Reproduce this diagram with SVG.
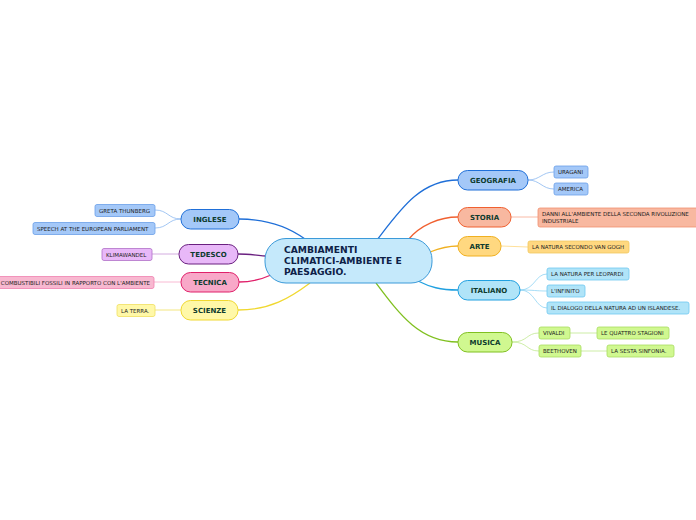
<svg xmlns="http://www.w3.org/2000/svg" width="696" height="520" viewBox="0 0 696 520">
<style>
text{font-family:"DejaVu Sans","Verdana",sans-serif}
.m{font-size:7px;font-weight:bold;fill:#0d3b2e;text-anchor:middle}
.s{font-size:5.5px;fill:#222}
.c{font-size:9.2px;font-weight:bold;fill:#0d2147}
.l{fill:none;stroke-width:1.3}
.t{fill:none;stroke-width:0.8}
</style>
<rect width="696" height="520" fill="#fff"/>
<g id="connectors">
<path class="l" d="M377,240 C400,210 420,180 458,180" stroke="#1f6fd8"/>
<path class="l" d="M408,240 C420,225 440,217 458,217" stroke="#f06030"/>
<path class="l" d="M430,252 C440,248 448,246 458,246" stroke="#f0b020"/>
<path class="l" d="M418,281 C430,287 440,290 458,290" stroke="#20a0e0"/>
<path class="l" d="M376,283 C400,315 420,342 458,342" stroke="#80c020"/>
<path class="l" d="M305,239 C290,228 270,219 239,219" stroke="#1f6fd8"/>
<path class="l" d="M266,256 C255,255 248,254 238,254" stroke="#6a2080"/>
<path class="l" d="M271,275 C260,280 250,282 239,282" stroke="#e0206a"/>
<path class="l" d="M310,283 C290,298 270,310 238,310" stroke="#f0d830"/>
<path class="t" d="M528,180 C540,180 542,172 554,172" stroke="#8ab8f0"/>
<path class="t" d="M528,180 C540,180 542,189 554,189" stroke="#8ab8f0"/>
<path class="t" d="M511,217 L538,217" stroke="#f8a890"/>
<path class="t" d="M501,246 L528,247" stroke="#ffd880"/>
<path class="t" d="M520,290 C535,290 535,274 547,274" stroke="#90d4f4"/>
<path class="t" d="M520,290 C535,290 535,291 547,291" stroke="#90d4f4"/>
<path class="t" d="M520,290 C535,290 535,308 547,308" stroke="#90d4f4"/>
<path class="t" d="M512,342 C528,342 526,333 539,333" stroke="#c0e890"/>
<path class="t" d="M512,342 C528,342 526,351 539,351" stroke="#c0e890"/>
<path class="t" d="M570,333 L597,333" stroke="#c0e890"/>
<path class="t" d="M581,351 L607,351" stroke="#c0e890"/>
<path class="t" d="M181,219 C168,219 168,210 155,210" stroke="#8ab8f0"/>
<path class="t" d="M181,219 C168,219 168,228 155,228" stroke="#8ab8f0"/>
<path class="t" d="M179,254 L152,254" stroke="#c898d8"/>
<path class="t" d="M181,282 L154,282" stroke="#f8a8c8"/>
<path class="t" d="M181,310 L155,310" stroke="#f0e060"/>
</g>
<g id="central">
<rect x="265" y="238.5" width="167" height="44.5" rx="21" fill="#c5e9fb" stroke="#3b9ad9" stroke-width="1"/>
<text class="c" x="284" y="253">CAMBIAMENTI</text>
<text class="c" x="284" y="264">CLIMATICI-AMBIENTE E</text>
<text class="c" x="284" y="275">PAESAGGIO.</text>
</g>
<g id="inglese"><rect x="181" y="209.5" width="58" height="19.5" rx="9.5" fill="#a4c8f8" stroke="#1f6fd8"/><text class="m" x="210" y="222">INGLESE</text></g>
<g id="tedesco"><rect x="179" y="244.5" width="59" height="19.5" rx="9.5" fill="#e8b8f8" stroke="#6a2080"/><text class="m" x="208.5" y="257">TEDESCO</text></g>
<g id="tecnica"><rect x="181" y="272.5" width="58" height="19.5" rx="9.5" fill="#f8a8c8" stroke="#e0206a"/><text class="m" x="210" y="285">TECNICA</text></g>
<g id="scienze"><rect x="181" y="300.5" width="57" height="19.5" rx="9.5" fill="#fff8a8" stroke="#f0d830"/><text class="m" x="209.5" y="313">SCIENZE</text></g>
<g id="greta"><rect x="95" y="204.5" width="60" height="12" rx="2" fill="#a4c8f8" stroke="#6aa0e8" stroke-width="0.8"/><text class="s" x="99" y="212.5">GRETA THUNBERG</text></g>
<g id="speech"><rect x="33" y="222.5" width="122" height="12" rx="2" fill="#a4c8f8" stroke="#6aa0e8" stroke-width="0.8"/><text class="s" x="37" y="230.5">SPEECH AT THE EUROPEAN PARLIAMENT</text></g>
<g id="klimawandel"><rect x="102" y="248.5" width="50" height="12" rx="2" fill="#e8b8f8" stroke="#b070c8" stroke-width="0.8"/><text class="s" x="106" y="256.5">KLIMAWANDEL</text></g>
<g id="combustibili"><rect x="-6" y="276.5" width="160" height="12" rx="2" fill="#f8b8d0" stroke="#f080b0" stroke-width="0.8"/><text class="s" x="150" y="284.5" text-anchor="end">COMBUSTIBILI FOSSILI IN RAPPORTO CON L'AMBIENTE</text></g>
<g id="laterra"><rect x="117" y="304.5" width="38" height="12" rx="2" fill="#fff8a8" stroke="#f0e060" stroke-width="0.8"/><text class="s" x="121" y="312.5">LA TERRA.</text></g>
<g id="geografia"><rect x="458" y="170.5" width="70" height="19.5" rx="9.5" fill="#a4c8f8" stroke="#1f6fd8"/><text class="m" x="493" y="183">GEOGRAFIA</text></g>
<g id="storia"><rect x="458" y="207.5" width="53" height="19.5" rx="9.5" fill="#f8b8a0" stroke="#f06030"/><text class="m" x="484.5" y="220">STORIA</text></g>
<g id="arte"><rect x="458" y="236.5" width="43" height="19.5" rx="9.5" fill="#ffd880" stroke="#f0b020"/><text class="m" x="479.5" y="249">ARTE</text></g>
<g id="italiano"><rect x="458" y="280.5" width="62" height="19.5" rx="9.5" fill="#b0e4f8" stroke="#20a0e0"/><text class="m" x="489" y="293">ITALIANO</text></g>
<g id="musica"><rect x="458" y="332.5" width="54" height="19.5" rx="9.5" fill="#d0f890" stroke="#80c020"/><text class="m" x="485" y="345">MUSICA</text></g>
<g id="uragani"><rect x="554" y="166" width="34" height="12" rx="2" fill="#a4c8f8" stroke="#6aa0e8" stroke-width="0.8"/><text class="s" x="558" y="174">URAGANI</text></g>
<g id="america"><rect x="554" y="183" width="34" height="12" rx="2" fill="#a4c8f8" stroke="#6aa0e8" stroke-width="0.8"/><text class="s" x="558" y="191">AMERICA</text></g>
<g id="danni"><rect x="538" y="208" width="162" height="19" rx="2" fill="#f8b8a0" stroke="#f09070" stroke-width="0.8"/><text class="s" x="542" y="215.5">DANNI ALL'AMBIENTE DELLA SECONDA RIVOLUZIONE</text><text class="s" x="542" y="222.5">INDUSTRIALE</text></g>
<g id="vangogh"><rect x="528" y="241" width="101" height="12" rx="2" fill="#ffd880" stroke="#f0c860" stroke-width="0.8"/><text class="s" x="532" y="249">LA NATURA SECONDO VAN GOGH</text></g>
<g id="leopardi"><rect x="547" y="268" width="82" height="12" rx="2" fill="#b0e4f8" stroke="#70c8f0" stroke-width="0.8"/><text class="s" x="551" y="276">LA NATURA PER LEOPARDI</text></g>
<g id="infinito"><rect x="547" y="285" width="38" height="12" rx="2" fill="#b0e4f8" stroke="#70c8f0" stroke-width="0.8"/><text class="s" x="551" y="293">L'INFINITO</text></g>
<g id="dialogo"><rect x="547" y="302" width="142" height="12" rx="2" fill="#b0e4f8" stroke="#70c8f0" stroke-width="0.8"/><text class="s" x="551" y="310">IL DIALOGO DELLA NATURA AD UN ISLANDESE.</text></g>
<g id="vivaldi"><rect x="539" y="327" width="31" height="12" rx="2" fill="#d0f890" stroke="#a8dc60" stroke-width="0.8"/><text class="s" x="543" y="335">VIVALDI</text></g>
<g id="stagioni"><rect x="597" y="327" width="72" height="12" rx="2" fill="#d0f890" stroke="#a8dc60" stroke-width="0.8"/><text class="s" x="601" y="335">LE QUATTRO STAGIONI</text></g>
<g id="beethoven"><rect x="539" y="345" width="42" height="12" rx="2" fill="#d0f890" stroke="#a8dc60" stroke-width="0.8"/><text class="s" x="543" y="353">BEETHOVEN</text></g>
<g id="sinfonia"><rect x="607" y="345" width="67" height="12" rx="2" fill="#d0f890" stroke="#a8dc60" stroke-width="0.8"/><text class="s" x="611" y="353">LA SESTA SINFONIA.</text></g>
</svg>
